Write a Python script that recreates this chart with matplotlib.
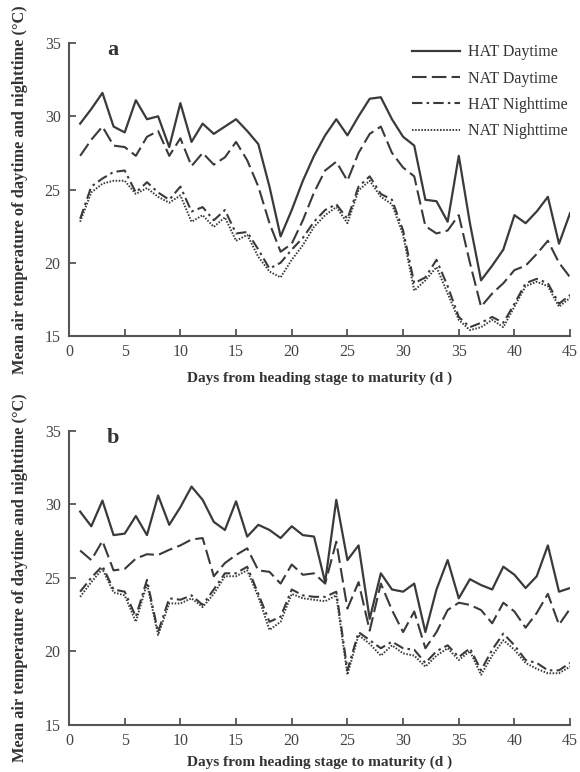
import matplotlib.pyplot as plt

plt.rcParams['font.family'] = ['Liberation Serif', 'DejaVu Serif']

days = list(range(1, 46))

# panel a
a_hat_day = [29.5, 30.5, 31.6, 29.3, 28.9, 31.1, 29.8, 30.0, 27.9, 30.9,
             28.25, 29.5, 28.8, 29.3, 29.8, 29.0, 28.1, 25.2, 21.8, 23.6,
             25.6, 27.3, 28.7, 29.8, 28.7, 30.0, 31.2, 31.3, 29.8, 28.6,
             28.0, 24.3, 24.2, 22.8, 27.3, 22.7, 18.8, 19.8, 20.9, 23.25,
             22.7, 23.5, 24.5, 21.3, 23.4]
a_nat_day = [27.3, 28.4, 29.3, 28.0, 27.9, 27.3, 28.6, 29.0, 27.3, 28.5,
             26.6, 27.5, 26.7, 27.2, 28.25, 27.0, 25.2, 22.7, 20.75, 21.3,
             22.9, 24.8, 26.3, 26.9, 25.6, 27.5, 28.8, 29.3, 27.5, 26.5,
             25.9, 22.5, 22.0, 22.2, 23.25, 20.0, 17.0, 17.9, 18.6, 19.5,
             19.8, 20.6, 21.5, 20.0, 19.0]
a_hat_night = [23.0, 25.2, 25.75, 26.2, 26.3, 24.8, 25.5, 24.8, 24.3, 25.2,
               23.5, 23.8, 22.9, 23.6, 22.0, 22.1, 20.9, 19.6, 20.0, 20.9,
               21.7, 22.8, 23.6, 24.0, 23.0, 25.2, 25.9, 24.7, 24.3, 22.2,
               18.6, 19.0, 20.2, 18.4, 16.3, 15.6, 15.9, 16.3, 15.9, 17.2,
               18.6, 18.9, 18.6, 17.2, 17.8]
a_nat_night = [22.8, 24.8, 25.4, 25.6, 25.6, 24.7, 25.1, 24.5, 24.1, 24.6,
               22.8, 23.25, 22.45, 23.1, 21.5, 21.9, 20.4, 19.4, 19.0, 20.2,
               21.2, 22.45, 23.25, 23.8, 22.7, 24.95, 25.6, 24.5, 24.0, 21.9,
               18.1, 18.8, 19.7, 17.9, 16.1, 15.4, 15.6, 16.1, 15.6, 17.0,
               18.4, 18.7, 18.4, 17.0, 17.6]

# panel b
b_hat_day = [29.5, 28.5, 30.25, 27.9, 28.0, 29.2, 27.9, 30.6, 28.6, 29.8,
             31.2, 30.3, 28.8, 28.25, 30.2, 27.8, 28.6, 28.25, 27.7, 28.5,
             27.9, 27.8, 24.7, 30.3, 26.2, 27.2, 22.2, 25.3, 24.2, 24.05,
             24.6, 21.3, 24.2, 26.2, 23.6, 24.9, 24.5, 24.2, 25.75, 25.2,
             24.3, 25.1, 27.2, 24.05, 24.3]
b_nat_day = [26.85, 26.2, 27.5, 25.5, 25.6, 26.3, 26.6, 26.55, 26.9, 27.2,
             27.6, 27.7, 25.1, 26.0, 26.55, 27.0, 25.5, 25.4, 24.6, 25.9,
             25.2, 25.3, 24.6, 27.45, 22.9, 24.7, 21.4, 24.6, 22.8, 21.3,
             22.7, 20.2, 21.3, 22.8, 23.3, 23.15, 22.8, 21.9, 23.3, 22.7,
             21.6, 22.6, 23.9, 21.8, 22.9]
b_hat_night = [24.05, 25.0, 25.8, 24.2, 24.05, 22.35, 24.85, 21.3, 23.6, 23.5,
               23.8, 23.15, 24.2, 25.3, 25.3, 25.75, 23.9, 22.0, 22.35, 24.2,
               23.8, 23.7, 23.7, 24.05, 18.7, 21.3, 20.75, 20.2, 20.65, 20.2,
               20.1, 19.2, 20.0, 20.4, 19.6, 20.2, 18.7, 20.1, 21.2, 20.4,
               19.4, 19.2, 18.7, 18.7, 19.2]
b_nat_night = [23.7, 24.7, 25.6, 24.0, 23.8, 22.0, 24.6, 21.1, 23.25, 23.25,
               23.6, 23.0, 23.9, 25.1, 25.1, 25.5, 23.7, 21.45, 22.0, 23.9,
               23.6, 23.5, 23.4, 23.8, 18.4, 21.1, 20.5, 19.7, 20.4, 19.85,
               19.7, 18.95, 19.7, 20.2, 19.4, 20.0, 18.4, 19.7, 20.75, 20.1,
               19.2, 18.8, 18.5, 18.5, 18.95]

labels = ['HAT Daytime', 'NAT Daytime', 'HAT Nighttime', 'NAT Nighttime']
styles = ['-', (0, (7, 2.5)), (0, (5, 2, 1.2, 2)), (0, (0.8, 0.8))]
widths = [1.6, 1.5, 1.5, 1.4]
c = '#3a3a3a'

fig = plt.figure(figsize=(5.8, 7.72), dpi=100)
ax_a = fig.add_axes([0.119, 0.5648, 0.864, 0.3794])
ax_b = fig.add_axes([0.119, 0.0613, 0.864, 0.3807])

panels = [(ax_a, 'a', [a_hat_day, a_nat_day, a_hat_night, a_nat_night], 8),
          (ax_b, 'b', [b_hat_day, b_nat_day, b_hat_night, b_nat_night], 5)]

for ax, letter, series, xpad in panels:
    for ys, lab, ls, lw in zip(series, labels, styles, widths):
        ax.plot(days, ys, color=c, linestyle=ls, linewidth=lw, label=lab)
    ax.set_xlim(0, 45)
    ax.set_ylim(15, 35)
    ax.set_xticks(range(0, 46, 5))
    ax.set_yticks(range(15, 36, 5))
    ax.spines['top'].set_visible(False)
    ax.spines['right'].set_visible(False)
    for s in ['left', 'bottom']:
        ax.spines[s].set_color('#555555')
        ax.spines[s].set_linewidth(1.5)
    ax.tick_params(direction='in', length=5, width=1.3, color='#555555',
                   labelsize=11.5, labelcolor='#444444', pad=6)
    ax.set_xlabel('Days from heading stage to maturity (d )', fontsize=11,
                  fontweight='bold', color='#333333', labelpad=xpad)
    ax.set_ylabel('Mean air temperature of daytime and nighttime (°C)',
                  fontsize=11.8, fontweight='bold', color='#333333', labelpad=12)
    ax.text(0.088, 0.975, letter, transform=ax.transAxes, fontsize=16,
            fontweight='bold', color='#333333', ha='center', va='center')

ax_a.legend(loc='upper right', bbox_to_anchor=(1.024, 1.045), frameon=False,
            fontsize=11.5, handlelength=3.0, labelspacing=0.65,
            handletextpad=0.5, labelcolor='#333333')

plt.savefig('out.png', dpi=100)
